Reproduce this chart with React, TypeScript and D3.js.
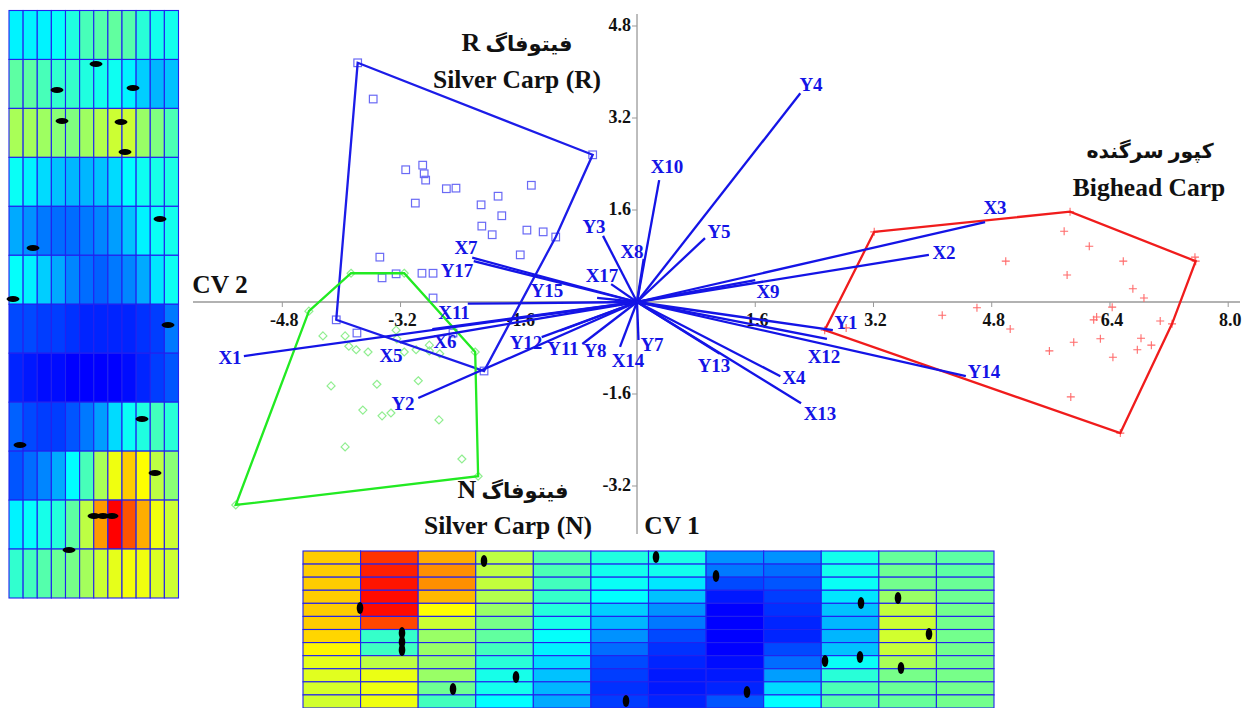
import React from "react";
import * as d3 from "d3";

type P = [number, number];

const silverR: P[] = [[-3.78,4.16],[-3.57,3.53],[-3.13,2.30],[-2.90,2.38],[-2.88,2.23],[-2.86,2.12],[-2.58,1.97],[-2.45,1.98],[-3.00,1.72],[-2.11,1.69],[-1.88,1.84],[-1.43,2.03],[-0.60,2.56],[-1.83,1.50],[-2.10,1.32],[-1.96,1.17],[-1.49,1.25],[-1.27,1.22],[-1.10,1.13],[-1.58,0.82],[-3.48,0.78],[-3.45,0.42],[-3.26,0.49],[-2.91,0.50],[-2.76,0.50],[-2.76,0.07],[-4.07,-0.31],[-3.79,-0.54],[-2.49,-0.54],[-2.07,-1.20]];
const silverRHull: P[] = [[-3.78,4.16],[-0.60,2.56],[-1.10,1.13],[-2.07,-1.20],[-4.07,-0.31]];

const silverN: P[] = [[-4.44,-0.16],[-3.87,0.50],[-3.15,0.50],[-2.19,-0.87],[-2.15,-3.03],[-5.43,-3.53],[-4.25,-0.59],[-3.95,-0.59],[-3.90,-0.77],[-3.80,-0.83],[-3.64,-0.87],[-3.26,-0.49],[-3.25,-0.64],[-3.15,-0.87],[-2.99,-0.83],[-2.81,-0.75],[-2.81,-0.85],[-2.67,-0.90],[-4.14,-1.46],[-3.52,-1.43],[-2.96,-1.37],[-3.71,-1.88],[-3.45,-1.98],[-3.33,-1.93],[-2.68,-2.05],[-3.95,-2.52],[-2.37,-2.73]];
const silverNHull: P[] = [[-4.44,-0.16],[-3.87,0.50],[-3.15,0.50],[-2.19,-0.87],[-2.15,-3.03],[-5.43,-3.53]];

const bighead: P[] = [[3.21,1.22],[5.86,1.57],[7.56,0.71],[7.55,0.78],[6.54,-2.28],[2.54,-0.49],[5.78,1.23],[6.12,0.97],[4.99,0.71],[6.58,0.71],[5.82,0.47],[6.71,0.23],[6.86,0.07],[6.43,-0.09],[4.13,-0.23],[4.60,-0.10],[5.05,-0.47],[2.83,-0.45],[6.22,-0.26],[6.18,-0.31],[7.08,-0.33],[7.24,-0.38],[5.91,-0.70],[6.27,-0.64],[6.82,-0.63],[6.96,-0.75],[6.77,-0.83],[5.58,-0.85],[6.44,-0.96],[5.87,-1.65]];
const bigheadHull: P[] = [[3.21,1.22],[5.86,1.57],[7.56,0.71],[7.24,-0.38],[6.54,-2.28],[2.54,-0.49]];

const vectors: [string, number, number][] = [["Y4",2.21,3.63],["X10",0.30,2.12],["Y5",0.92,1.11],["X3",4.71,1.39],["X2",3.95,0.82],["X9",1.60,0.38],["X8",0.09,0.75],["Y3",-0.46,1.15],["X17",-0.35,0.31],["X7",-2.23,0.77],["Y17",-2.21,0.71],["Y15",-0.54,0.07],["X11",-2.29,-0.03],["X1",-5.32,-0.94],["X5",-3.21,-0.70],["X6",-2.77,-0.47],["Y2",-2.96,-1.67],["Y12",-1.29,-0.61],["Y11",-1.04,-0.50],["Y8",-0.74,-0.73],["X14",-0.23,-0.78],["Y7",0.02,-0.66],["Y13",1.12,-0.90],["X4",1.94,-1.29],["X13",2.22,-1.76],["X12",2.57,-0.64],["Y1",2.65,-0.49],["Y14",4.45,-1.29]];

const vectorLabels: Record<string, P> = {Y4:[811,85],X10:[667,167],Y5:[719,232],X3:[995,208],X2:[944,253],X9:[768,292],X8:[632,252],Y3:[594,227],X17:[602,276],X7:[466,248],Y17:[457,271],Y15:[547,291],X11:[454,313],X6:[445,342],X5:[391,356],Y2:[403,404],X1:[230,358],Y12:[526,343],Y11:[563,349],Y8:[595,351],X14:[628,361],Y7:[652,345],Y13:[714,366],X4:[794,378],X13:[820,414],X12:[824,357],Y1:[846,323],Y14:[984,372]};

const xTicks = [-4.8,-3.2,-1.6,1.6,3.2,4.8,6.4,8.0];
const yTicks = [4.8,3.2,1.6,-1.6,-3.2];

const leftMap: number[][] = [
[.2,.2,.2,.22,.28,.37,.4,.43,.4,.3,.25,.25],
[.42,.42,.37,.32,.33,.28,.25,.24,.2,.17,.15,.16],
[.58,.57,.56,.52,.5,.56,.6,.65,.65,.55,.5,.38],
[.23,.2,.18,.16,.15,.15,.16,.18,.21,.24,.26,.27],
[.14,.12,.1,.09,.09,.1,.11,.13,.16,.2,.23,.25],
[.22,.2,.17,.14,.11,.09,.08,.1,.11,.14,.19,.24],
[.06,.06,.05,.05,.04,.03,.03,.03,.03,.04,.05,.1],
[.03,.02,.01,.01,0,0,0,0,.01,.03,.05,.07],
[.08,.06,.05,.05,.07,.1,.13,.18,.23,.28,.36,.3],
[.07,.09,.11,.14,.21,.37,.58,.72,.8,.75,.62,.52],
[.2,.22,.26,.29,.42,.62,.85,1,.92,.83,.72,.65],
[.32,.36,.4,.45,.48,.57,.65,.7,.73,.72,.68,.65],
];
const bottomMap: number[][] = [
[.8,.95,.83,.62,.4,.28,.27,.12,.12,.25,.44,.42],
[.8,.97,.86,.62,.38,.25,.25,.1,.09,.25,.46,.42],
[.8,.98,.86,.63,.36,.23,.19,.06,.07,.23,.47,.45],
[.8,.99,.82,.6,.33,.21,.16,.02,.05,.19,.55,.46],
[.8,.99,.75,.55,.29,.17,.12,0,.04,.16,.63,.47],
[.8,.93,.65,.48,.26,.15,.1,0,.03,.15,.65,.47],
[.79,.33,.55,.43,.22,.12,.06,0,.03,.15,.66,.47],
[.76,.35,.55,.36,.2,.09,.04,0,.06,.16,.64,.47],
[.7,.62,.55,.3,.18,.06,.03,.01,.09,.23,.58,.47],
[.69,.71,.55,.26,.16,.05,.02,.02,.13,.3,.48,.48],
[.67,.72,.46,.25,.15,.04,.02,.03,.18,.38,.45,.47],
[.66,.72,.36,.21,.14,.05,.03,.07,.21,.4,.44,.47],
];
const leftDots: P[] = [[96,64],[57,90],[133,88],[62,121],[121,122],[125,152],[160,219],[33,248],[13,299],[168,325],[142,419],[20,445],[155,473],[94,516],[103,516],[112,516],[69,550]];
const bottomDots: P[] = [[484,561],[360,608],[402,633],[402,642],[402,650],[516,677],[453,689],[626,701],[656,557],[716,576],[861,603],[898,598],[929,634],[825,661],[860,657],[901,668],[747,692]];

const heat = d3.scaleLinear<string>()
  .domain([0, 0.21, 0.5, 0.75, 1])
  .range(["#0000ff", "#00ffff", "#80ff80", "#ffff00", "#ff0000"])
  .interpolate(d3.interpolateRgb as any);

const x = d3.scaleLinear().domain([-4.8, 8]).range([282.3, 1228.2]);
const y = d3.scaleLinear().domain([-3.2, 4.8]).range([486, 26]);
const hullPath = d3.line<P>().x(d => x(d[0])).y(d => y(d[1])).curve(d3.curveLinearClosed);

const serif = "'Liberation Serif', 'DejaVu Sans', serif";
const blue = "#1414e6";

function Heat({ data, x0, x1, y0, y1 }: { data: number[][]; x0: number; x1: number; y0: number; y1: number }) {
  const cols = d3.scaleBand<number>().domain(d3.range(data[0].length)).range([x0, x1]);
  const rows = d3.scaleBand<number>().domain(d3.range(data.length)).range([y0, y1]);
  return (
    <g>
      {data.map((r, i) => r.map((v, j) => (
        <rect key={`${i}-${j}`} x={cols(j)} y={rows(i)} width={cols.bandwidth()} height={rows.bandwidth()} fill={heat(v)} stroke="#2222ee" strokeWidth={1.1} />
      )))}
    </g>
  );
}

export default function App() {
  return (
    <svg width={1244} height={708} style={{ position: "absolute", left: 0, top: 0, background: "#fff" }} fontFamily={serif}>
      <Heat data={leftMap} x0={9} x1={178.5} y0={10.5} y1={598} />
      <Heat data={bottomMap} x0={303} x1={994} y0={551} y1={708} />
      {leftDots.map((d, i) => <ellipse key={i} cx={d[0]} cy={d[1]} rx={6.5} ry={2.9} fill="#000" />)}
      {bottomDots.map((d, i) => <ellipse key={i} cx={d[0]} cy={d[1]} rx={3.3} ry={6} fill="#000" />)}

      <line x1={193} x2={1240} y1={y(0)} y2={y(0)} stroke="#999" strokeWidth={1.3} />
      <line x1={x(0)} x2={x(0)} y1={14} y2={534} stroke="#999" strokeWidth={1.3} />
      {xTicks.map(t => (
        <g key={t}>
          <line x1={x(t)} x2={x(t)} y1={y(0)} y2={y(0) + 5} stroke="#999" />
          <text x={x(t) + 2} y={y(0) + 24} textAnchor="middle" fontSize={18} fontWeight="bold" fill="#111">{t.toFixed(1)}</text>
        </g>
      ))}
      {yTicks.map(t => (
        <g key={t}>
          <line x1={x(0) - 5} x2={x(0)} y1={y(t)} y2={y(t)} stroke="#999" />
          <text x={x(0) - 6} y={y(t) + 5} textAnchor="end" fontSize={18} fontWeight="bold" fill="#111">{t.toFixed(1)}</text>
        </g>
      ))}

      {silverR.map((p, i) => <rect key={i} x={x(p[0]) - 3.8} y={y(p[1]) - 3.8} width={7.6} height={7.6} fill="none" stroke="#6a6af5" strokeWidth={1.2} />)}
      {silverN.map((p, i) => <path key={i} transform={`translate(${x(p[0])},${y(p[1])})`} d="M0,-4L4,0L0,4L-4,0Z" fill="none" stroke="#90ee90" strokeWidth={1.2} />)}
      {bighead.map((p, i) => <path key={i} transform={`translate(${x(p[0])},${y(p[1])})`} d="M0,-4V4M-4,0H4" fill="none" stroke="#ff6a6a" strokeWidth={1.1} />)}

      <path d={hullPath(silverRHull) as string} fill="none" stroke="#1c1ce8" strokeWidth={2.3} />
      <path d={hullPath(silverNHull) as string} fill="none" stroke="#22ea22" strokeWidth={2.3} />
      <path d={hullPath(bigheadHull) as string} fill="none" stroke="#f01c1c" strokeWidth={2.3} />

      {vectors.map(([n, a, b]) => (
        <line key={n} x1={x(0)} y1={y(0)} x2={x(a)} y2={y(b)} stroke={blue} strokeWidth={2.3} />
      ))}
      {vectors.map(([n]) => (
        <text key={n} x={vectorLabels[n][0]} y={vectorLabels[n][1] + 6} textAnchor="middle" fontSize={19} fontWeight="bold" fill={blue}>{n}</text>
      ))}

      <g fontWeight="bold" fill="#111" fontSize={25.5} textAnchor="middle">
        <text x={517} y={51} fontSize={21} style={{ direction: "rtl" }}>فیتوفاگ <tspan fontSize={26}>R</tspan></text>
        <text x={517} y={88}>Silver Carp (R)</text>
        <text x={1150} y={158} fontSize={20.5} style={{ direction: "rtl" }}>کپور سرگنده</text>
        <text x={1149} y={196}>Bighead Carp</text>
        <text x={513} y={498} fontSize={21} style={{ direction: "rtl" }}>فیتوفاگ <tspan fontSize={26}>N</tspan></text>
        <text x={508} y={534}>Silver Carp (N)</text>
        <text x={220} y={293}>CV 2</text>
        <text x={672} y={534}>CV 1</text>
      </g>
    </svg>
  );
}
